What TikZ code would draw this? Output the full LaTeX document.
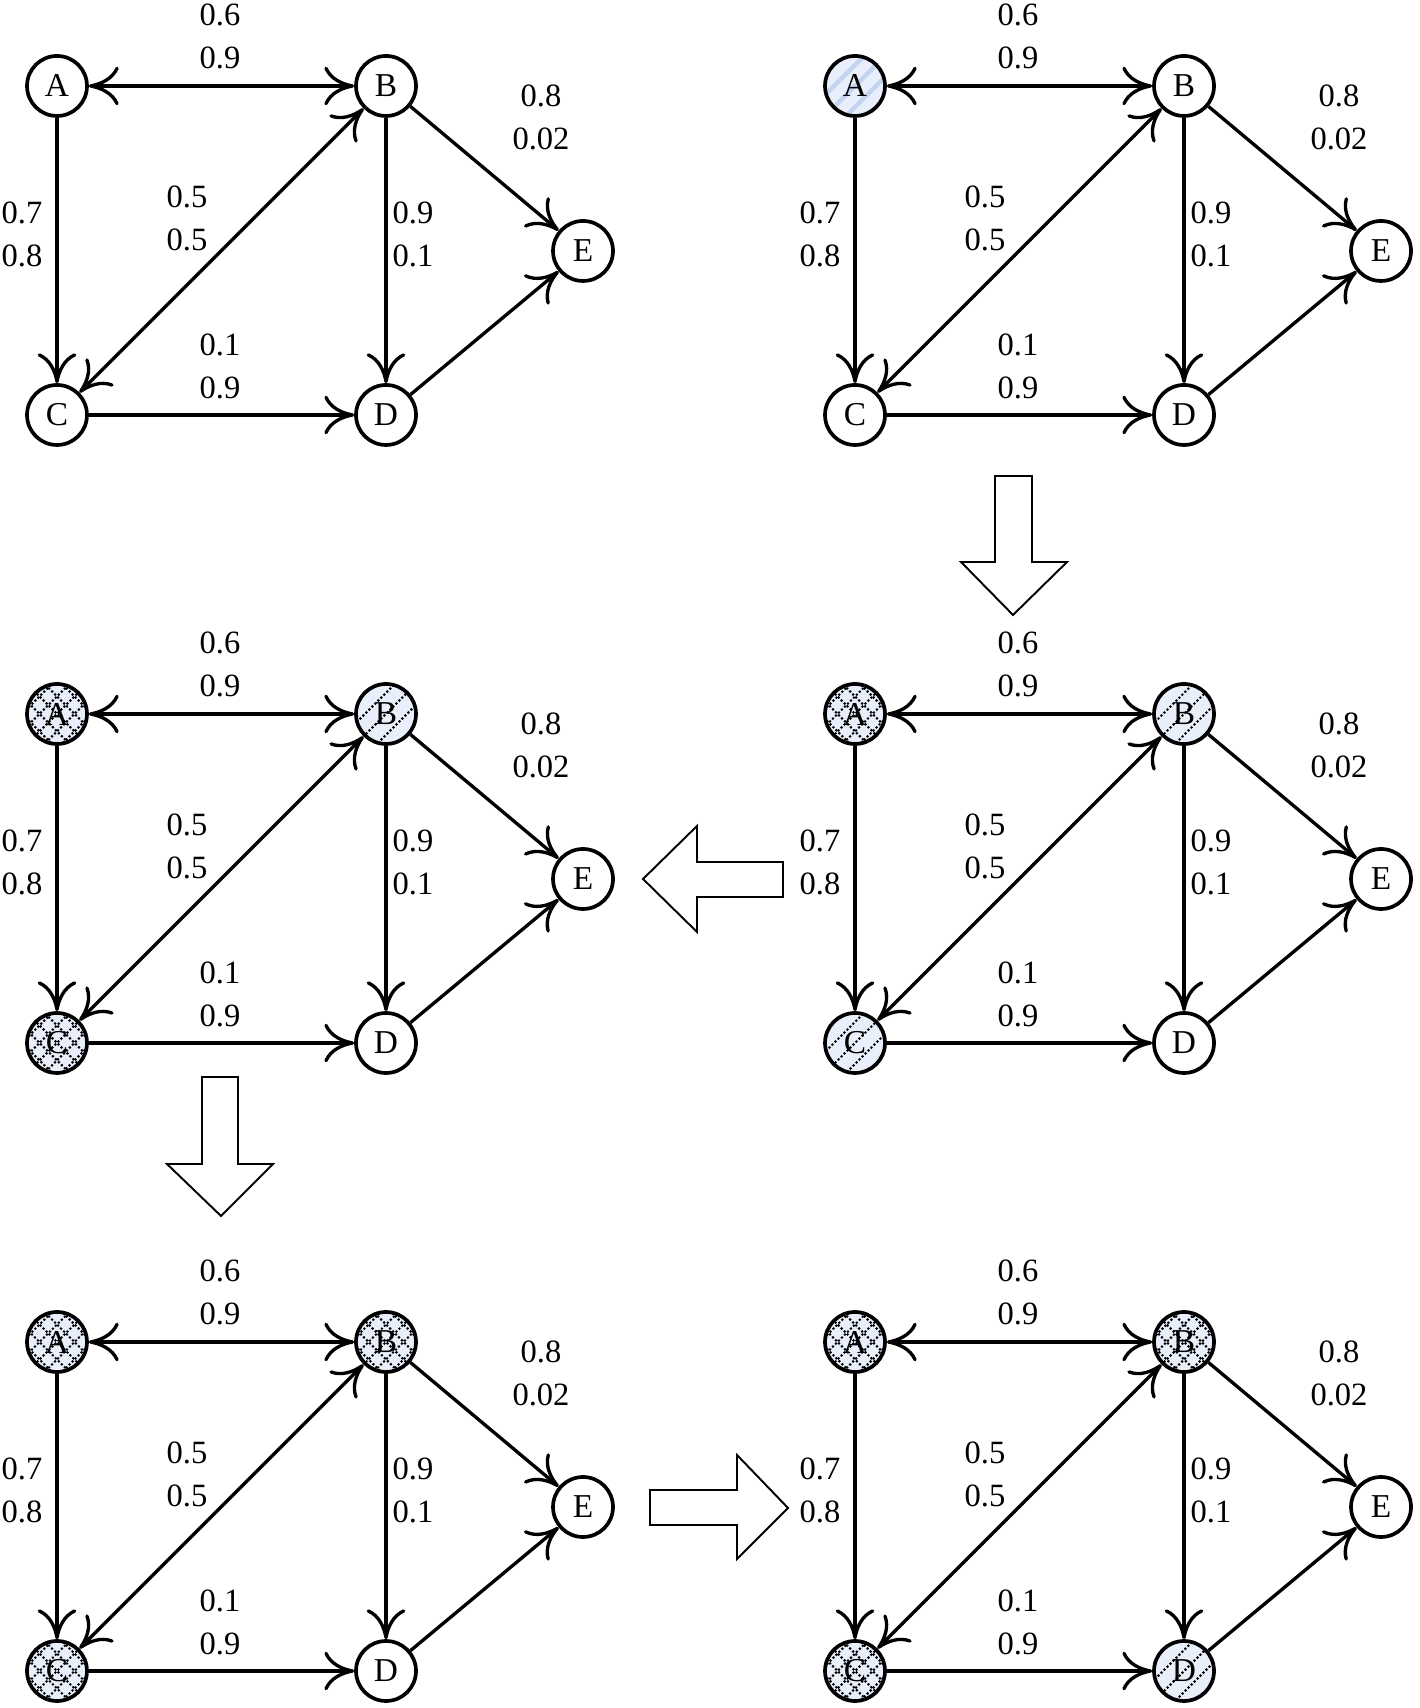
\documentclass[tikz,border=0pt]{standalone}
\usepackage{fontspec}
\setmainfont{Liberation Serif}
\usetikzlibrary{arrows.meta}
\definecolor{statefill}{RGB}{233, 239, 250}
\definecolor{seedline}{RGB}{196, 212, 240}

\tikzset{
  >={Computer Modern Rightarrow[length=17pt,width=22pt]},
  statenode/.style={circle, draw=black, line width=2.1pt, minimum size=1.2cm,
    inner sep=0pt, fill=white, font=\fontsize{19}{24}\selectfont},
  probtext/.style={align=center, inner sep=0pt, font=\fontsize{18.5}{24.5}\selectfont},
  link/.style={line width=1.9pt},
  blockarrow/.style={draw=black, fill=white, line width=1.1pt, line join=miter},
  idlefill/.style={fill=white},
  seedfill/.style={fill=statefill, path picture={
    \foreach \k in {-3,...,3}
      \draw[seedline, line width=2.5pt]
        ([xshift=\k*0.42cm]path picture bounding box.center) ++(-1,-1) -- ++(2,2);}},
  hatchfill/.style={fill=statefill, path picture={
    \foreach \k in {-5,...,5}
      \draw[black, line width=1.2pt, dash pattern=on 1.2pt off 1.2pt]
        ([xshift=\k*0.35cm]path picture bounding box.center) ++(-1,-1) -- ++(2,2)
        ([xshift=\k*0.35cm]path picture bounding box.center) ++(-1,1) -- ++(2,-2);}},
  stripefill/.style={fill=statefill, path picture={
    \foreach \k in {-3,...,3}
      \draw[black, line width=1.2pt, dash pattern=on 1.2pt off 1.2pt]
        ([xshift=\k*0.42cm]path picture bounding box.center) ++(-1,-1) -- ++(2,2);}}
}

% one copy of the network; #1 name prefix, #2/#3 position of A, #4-#8 fills of A-E
\newcommand{\netpanel}[8]{%
  \begin{scope}[shift={(#2,#3)}]
    % states
    \node[statenode,#4] (#1A) at (0,0) {A};
    \node[statenode,#5] (#1B) at (6.58,0) {B};
    \node[statenode,#6] (#1C) at (0,-6.58) {C};
    \node[statenode,#7] (#1D) at (6.58,-6.58) {D};
    \node[statenode,#8] (#1E) at (10.52,-3.30) {E};

    % transitions
    \draw[link,<->] (#1A) -- (#1B);
    \draw[link,->] (#1A) -- (#1C);
    \draw[link,<->] (#1C) -- (#1B);
    \draw[link,->] (#1B) -- (#1D);
    \draw[link,->] (#1C) -- (#1D);
    \draw[link,->] (#1B) -- (#1E);
    \draw[link,->] (#1D) -- (#1E);

    % probabilities
    \node[probtext] (#1pab) at (3.26,0.99) {0.6\\0.9};
    \node[probtext] (#1pac) at (-0.70,-2.96) {0.7\\0.8};
    \node[probtext] (#1pbc) at (2.60,-2.64) {0.5\\0.5};
    \node[probtext] (#1pcd) at (3.26,-5.60) {0.1\\0.9};
    \node[probtext] (#1pbd) at (7.12,-2.96) {0.9\\0.1};
    \node[probtext] (#1pbe) at (9.68,-0.62) {0.8\\0.02};
  \end{scope}}

\begin{document}
\begin{tikzpicture}
    \useasboundingbox (0,0) rectangle (28.38,34.16);

    % Top row
    \netpanel{tl}{1.14}{32.44}{idlefill}{idlefill}{idlefill}{idlefill}{idlefill}
    \netpanel{tr}{17.10}{32.44}{seedfill}{idlefill}{idlefill}{idlefill}{idlefill}

    % Middle row
    \netpanel{ml}{1.14}{19.88}{hatchfill}{stripefill}{hatchfill}{idlefill}{idlefill}
    \netpanel{mr}{17.10}{19.88}{hatchfill}{stripefill}{stripefill}{idlefill}{idlefill}

    % Bottom row
    \netpanel{bl}{1.14}{7.32}{hatchfill}{hatchfill}{hatchfill}{idlefill}{idlefill}
    \netpanel{br}{17.10}{7.32}{hatchfill}{hatchfill}{hatchfill}{stripefill}{idlefill}

    % Step arrows between the copies
    \draw[blockarrow] (19.90,24.64) -- (20.64,24.64) -- (20.64,22.92) -- (21.34,22.92)
        -- (20.26,21.86) -- (19.22,22.92) -- (19.90,22.92) -- cycle;
    \draw[blockarrow] (15.66,16.92) -- (13.94,16.92) -- (13.94,17.64) -- (12.86,16.58)
        -- (13.94,15.52) -- (13.94,16.22) -- (15.66,16.22) -- cycle;
    \draw[blockarrow] (4.04,12.62) -- (4.76,12.62) -- (4.76,10.88) -- (5.46,10.88)
        -- (4.42,9.84) -- (3.34,10.88) -- (4.04,10.88) -- cycle;
    \draw[blockarrow] (13.00,4.36) -- (14.74,4.36) -- (14.74,5.06) -- (15.76,4.00)
        -- (14.74,2.98) -- (14.74,3.66) -- (13.00,3.66) -- cycle;
\end{tikzpicture}
\end{document}
